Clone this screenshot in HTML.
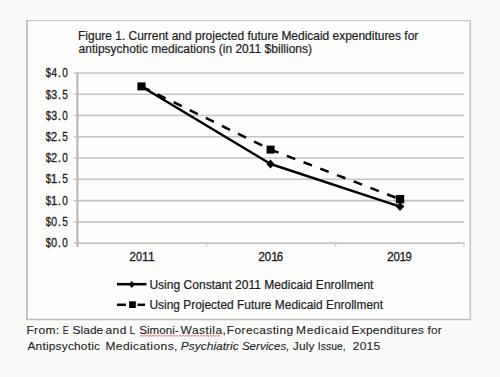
<!DOCTYPE html>
<html><head><meta charset="utf-8">
<style>
html,body{margin:0;padding:0;}
body{width:500px;height:377px;background:#fafaf8;overflow:hidden;}
svg{display:block;font-family:"Liberation Sans",sans-serif;}
text{stroke-linejoin:round;}
</style></head>
<body>
<svg width="500" height="377" viewBox="0 0 500 377">
  <rect x="0" y="0" width="500" height="377" fill="#fafaf8"/>
  <rect x="27" y="20.6" width="443.3" height="298.9" fill="#fdfdfc"/>
  <line x1="26.3" y1="20.6" x2="471" y2="20.6" stroke="#c8c6c2" stroke-width="1.4"/>
  <line x1="27" y1="20" x2="27" y2="320.2" stroke="#bab8b4" stroke-width="1.6"/>
  <line x1="470.3" y1="20" x2="470.3" y2="320.2" stroke="#c4c2be" stroke-width="1.5"/>
  <line x1="26.3" y1="319.5" x2="471" y2="319.5" stroke="#c0beba" stroke-width="1.6"/>
  <g stroke="#c6c4c0" stroke-width="1.6" fill="none">
    <line x1="77.5" y1="221.84" x2="464" y2="221.84"/>
    <line x1="77.5" y1="200.58" x2="464" y2="200.58"/>
    <line x1="77.5" y1="179.32" x2="464" y2="179.32"/>
    <line x1="77.5" y1="158.06" x2="464" y2="158.06"/>
    <line x1="77.5" y1="136.80" x2="464" y2="136.80"/>
    <line x1="77.5" y1="115.54" x2="464" y2="115.54"/>
    <line x1="77.5" y1="94.28" x2="464" y2="94.28"/>
    <line x1="77.5" y1="73.02" x2="464" y2="73.02"/>
    <line x1="77.5" y1="243.10" x2="464" y2="243.10"/>
  </g>
  <g stroke="#d0cecb" stroke-width="1.5" fill="none">
    <line x1="73.5" y1="243.10" x2="77" y2="243.10"/>
    <line x1="73.5" y1="221.84" x2="77" y2="221.84"/>
    <line x1="73.5" y1="200.58" x2="77" y2="200.58"/>
    <line x1="73.5" y1="179.32" x2="77" y2="179.32"/>
    <line x1="73.5" y1="158.06" x2="77" y2="158.06"/>
    <line x1="73.5" y1="136.80" x2="77" y2="136.80"/>
    <line x1="73.5" y1="115.54" x2="77" y2="115.54"/>
    <line x1="73.5" y1="94.28" x2="77" y2="94.28"/>
    <line x1="73.5" y1="73.02" x2="77" y2="73.02"/>
    <line x1="206.5" y1="243.10" x2="206.5" y2="246.8"/>
    <line x1="335.5" y1="243.10" x2="335.5" y2="246.8"/>
    <line x1="464" y1="243.10" x2="464" y2="246.8"/>
  </g>
  <line x1="77.4" y1="72.52" x2="77.4" y2="247" stroke="#b6b4b0" stroke-width="2"/>
  <polyline points="141.5,86.5 270.6,164 400,206.6" stroke="#000" stroke-width="2.5" fill="none" stroke-linejoin="round"/>
  <polyline points="141.5,86.5 270.6,149.6 400,199.2" stroke="#000" stroke-width="2.5" fill="none" stroke-dasharray="9 8.9"/>
  <g fill="#000">
    <path d="M270.5,159.5 L274.5,164 L270.5,168.5 L266.5,164 Z"/>
    <path d="M400,202.2 L404.3,206.6 L400,211 L395.7,206.6 Z"/>
    <rect x="137.4" y="82.4" width="8.2" height="8"/>
    <rect x="266.6" y="145.6" width="8" height="8"/>
    <rect x="395.8" y="195" width="8.4" height="8.4"/>
  </g>
  <line x1="117" y1="284.2" x2="146.5" y2="284.2" stroke="#000" stroke-width="2.5"/>
  <path d="M131.8,281 L134.8,284.5 L131.8,288 L128.8,284.5 Z" fill="#000"/>
  <line x1="117" y1="304.8" x2="126" y2="304.8" stroke="#000" stroke-width="2.5"/>
  <line x1="137.5" y1="304.8" x2="145" y2="304.8" stroke="#000" stroke-width="2.5"/>
  <rect x="129.1" y="301.3" width="6.7" height="6.7" fill="#000"/>
  <path d="M139.8,336.3 l1.5,-1 l1.5,1 l1.5,-1 l1.5,1 l1.5,-1 l1.5,1 l1.5,-1 l1.5,1 l1.5,-1 l1.5,1 l1.5,-1 l1.5,1 l1.5,-1 l1.5,1 l1.5,-1 l1.5,1 l1.5,-1 l1.5,1 l1.5,-1 l1.5,1 l1.5,-1 l1.5,1 l1.5,-1 l1.5,1 l1.5,-1 l1.5,1 l1.5,-1 l1.5,1 l1.5,-1 l1.5,1 l1.5,-1 l1.5,1 l1.5,-1 l1.5,1 l1.5,-1 l1.5,1 l1.5,-1 l1.5,1 l1.5,-1 l1.5,1 l1.5,-1 l1.5,1 l1.5,-1 l1.5,1 l1.5,-1 l1.5,1 l1.5,-1 l1.5,1 l1.5,-1 l1.5,1 l1.5,-1 l1.5,1 l1.5,-1 l1.5,1" stroke="#e0707c" stroke-width="1" fill="none"/>
  <text transform="translate(78.04 39.80) scale(0.9976 1)" font-size="12" fill="#1c1c1c" stroke="#1c1c1c" stroke-width="0.2">Figure 1. Current and projected future Medicaid expenditures for</text>
<text transform="translate(78.52 52.80) scale(1.0023 1)" font-size="12" fill="#1c1c1c" stroke="#1c1c1c" stroke-width="0.2">antipsychotic medications (in 2011 $billions)</text>
<text transform="translate(45.80 247.00) scale(0.7944 1)" font-size="12" fill="#1c1c1c" stroke="#1c1c1c" stroke-width="0.3">$</text>
<text transform="translate(51.23 247.00) scale(0.8763 1)" font-size="12" fill="#1c1c1c" stroke="#1c1c1c" stroke-width="0.3">0</text>
<text transform="translate(57.72 247.00)" font-size="12" fill="#1c1c1c" stroke="#1c1c1c" stroke-width="0.3">.</text>
<text transform="translate(62.35 247.00) scale(0.8247 1)" font-size="12" fill="#1c1c1c" stroke="#1c1c1c" stroke-width="0.3">0</text>
<text transform="translate(45.80 225.79) scale(0.7944 1)" font-size="12" fill="#1c1c1c" stroke="#1c1c1c" stroke-width="0.3">$</text>
<text transform="translate(51.23 225.79) scale(0.8763 1)" font-size="12" fill="#1c1c1c" stroke="#1c1c1c" stroke-width="0.3">0</text>
<text transform="translate(57.72 225.79)" font-size="12" fill="#1c1c1c" stroke="#1c1c1c" stroke-width="0.3">.</text>
<text transform="translate(62.30 225.79) scale(0.8421 1)" font-size="12" fill="#1c1c1c" stroke="#1c1c1c" stroke-width="0.3">5</text>
<text transform="translate(45.80 204.58) scale(0.7944 1)" font-size="12" fill="#1c1c1c" stroke="#1c1c1c" stroke-width="0.3">$</text>
<text transform="translate(50.64 204.58)" font-size="12" fill="#1c1c1c" stroke="#1c1c1c" stroke-width="0.3">1</text>
<text transform="translate(57.72 204.58)" font-size="12" fill="#1c1c1c" stroke="#1c1c1c" stroke-width="0.3">.</text>
<text transform="translate(62.35 204.58) scale(0.8247 1)" font-size="12" fill="#1c1c1c" stroke="#1c1c1c" stroke-width="0.3">0</text>
<text transform="translate(45.80 183.37) scale(0.7944 1)" font-size="12" fill="#1c1c1c" stroke="#1c1c1c" stroke-width="0.3">$</text>
<text transform="translate(50.64 183.37)" font-size="12" fill="#1c1c1c" stroke="#1c1c1c" stroke-width="0.3">1</text>
<text transform="translate(57.72 183.37)" font-size="12" fill="#1c1c1c" stroke="#1c1c1c" stroke-width="0.3">.</text>
<text transform="translate(62.30 183.37) scale(0.8421 1)" font-size="12" fill="#1c1c1c" stroke="#1c1c1c" stroke-width="0.3">5</text>
<text transform="translate(45.80 162.16) scale(0.7944 1)" font-size="12" fill="#1c1c1c" stroke="#1c1c1c" stroke-width="0.3">$</text>
<text transform="translate(51.05 162.16) scale(0.9239 1)" font-size="12" fill="#1c1c1c" stroke="#1c1c1c" stroke-width="0.3">2</text>
<text transform="translate(57.72 162.16)" font-size="12" fill="#1c1c1c" stroke="#1c1c1c" stroke-width="0.3">.</text>
<text transform="translate(62.35 162.16) scale(0.8247 1)" font-size="12" fill="#1c1c1c" stroke="#1c1c1c" stroke-width="0.3">0</text>
<text transform="translate(45.80 140.95) scale(0.7944 1)" font-size="12" fill="#1c1c1c" stroke="#1c1c1c" stroke-width="0.3">$</text>
<text transform="translate(51.05 140.95) scale(0.9239 1)" font-size="12" fill="#1c1c1c" stroke="#1c1c1c" stroke-width="0.3">2</text>
<text transform="translate(57.72 140.95)" font-size="12" fill="#1c1c1c" stroke="#1c1c1c" stroke-width="0.3">.</text>
<text transform="translate(62.30 140.95) scale(0.8421 1)" font-size="12" fill="#1c1c1c" stroke="#1c1c1c" stroke-width="0.3">5</text>
<text transform="translate(45.80 119.74) scale(0.7944 1)" font-size="12" fill="#1c1c1c" stroke="#1c1c1c" stroke-width="0.3">$</text>
<text transform="translate(51.23 119.74) scale(0.8854 1)" font-size="12" fill="#1c1c1c" stroke="#1c1c1c" stroke-width="0.3">3</text>
<text transform="translate(57.72 119.74)" font-size="12" fill="#1c1c1c" stroke="#1c1c1c" stroke-width="0.3">.</text>
<text transform="translate(62.35 119.74) scale(0.8247 1)" font-size="12" fill="#1c1c1c" stroke="#1c1c1c" stroke-width="0.3">0</text>
<text transform="translate(45.80 98.53) scale(0.7944 1)" font-size="12" fill="#1c1c1c" stroke="#1c1c1c" stroke-width="0.3">$</text>
<text transform="translate(51.23 98.53) scale(0.8854 1)" font-size="12" fill="#1c1c1c" stroke="#1c1c1c" stroke-width="0.3">3</text>
<text transform="translate(57.72 98.53)" font-size="12" fill="#1c1c1c" stroke="#1c1c1c" stroke-width="0.3">.</text>
<text transform="translate(62.30 98.53) scale(0.8421 1)" font-size="12" fill="#1c1c1c" stroke="#1c1c1c" stroke-width="0.3">5</text>
<text transform="translate(45.80 77.32) scale(0.7944 1)" font-size="12" fill="#1c1c1c" stroke="#1c1c1c" stroke-width="0.3">$</text>
<text transform="translate(51.40 77.32) scale(0.8333 1)" font-size="12" fill="#1c1c1c" stroke="#1c1c1c" stroke-width="0.3">4</text>
<text transform="translate(57.72 77.32)" font-size="12" fill="#1c1c1c" stroke="#1c1c1c" stroke-width="0.3">.</text>
<text transform="translate(62.35 77.32) scale(0.8247 1)" font-size="12" fill="#1c1c1c" stroke="#1c1c1c" stroke-width="0.3">0</text>
<text transform="translate(129.29 261.00) scale(1.0145 1)" font-size="12" fill="#1c1c1c" stroke="#1c1c1c" stroke-width="0.3">2</text>
<text transform="translate(136.12 261.00) scale(0.9107 1)" font-size="12" fill="#1c1c1c" stroke="#1c1c1c" stroke-width="0.3">0</text>
<text transform="translate(141.94 261.00)" font-size="12" fill="#1c1c1c" stroke="#1c1c1c" stroke-width="0.3">1</text>
<text transform="translate(147.89 261.00)" font-size="12" fill="#1c1c1c" stroke="#1c1c1c" stroke-width="0.3">1</text>
<text transform="translate(258.29 261.00) scale(1.0145 1)" font-size="12" fill="#1c1c1c" stroke="#1c1c1c" stroke-width="0.3">2</text>
<text transform="translate(264.80 261.00) scale(0.9622 1)" font-size="12" fill="#1c1c1c" stroke="#1c1c1c" stroke-width="0.3">0</text>
<text transform="translate(271.29 261.00)" font-size="12" fill="#1c1c1c" stroke="#1c1c1c" stroke-width="0.3">1</text>
<text transform="translate(276.83 261.00) scale(0.9498 1)" font-size="12" fill="#1c1c1c" stroke="#1c1c1c" stroke-width="0.3">6</text>
<text transform="translate(386.89 261.00) scale(1.0145 1)" font-size="12" fill="#1c1c1c" stroke="#1c1c1c" stroke-width="0.3">2</text>
<text transform="translate(393.40 261.00) scale(0.9622 1)" font-size="12" fill="#1c1c1c" stroke="#1c1c1c" stroke-width="0.3">0</text>
<text transform="translate(399.59 261.00)" font-size="12" fill="#1c1c1c" stroke="#1c1c1c" stroke-width="0.3">1</text>
<text transform="translate(405.60 261.00) scale(0.9319 1)" font-size="12" fill="#1c1c1c" stroke="#1c1c1c" stroke-width="0.3">9</text>
<text transform="translate(149.40 289.20) scale(1.0045 1)" font-size="12" fill="#1c1c1c" stroke="#1c1c1c" stroke-width="0.2">Using Constant 2011 Medicaid Enrollment</text>
<text transform="translate(149.40 309.00) scale(0.9951 1)" font-size="12" fill="#1c1c1c" stroke="#1c1c1c" stroke-width="0.2">Using Projected Future Medicaid Enrollment</text>
<text transform="translate(26.44 334.00) scale(1.0400 1)" font-size="11.5" fill="#222" stroke="#222" stroke-width="0.1" letter-spacing="0.332">From:</text>
<text transform="translate(62.70 334.00) scale(0.7659 1)" font-size="11.5" fill="#222" stroke="#222" stroke-width="0.1">E</text>
<text transform="translate(72.46 334.00) scale(1.0400 1)" font-size="11.5" fill="#222" stroke="#222" stroke-width="0.1" letter-spacing="0.058">Slade</text>
<text transform="translate(105.42 334.00) scale(1.0400 1)" font-size="11.5" fill="#222" stroke="#222" stroke-width="0.1" letter-spacing="0.507">and</text>
<text transform="translate(129.39 334.00) scale(0.8793 1)" font-size="11.5" fill="#222" stroke="#222" stroke-width="0.1">L</text>
<text transform="translate(139.28 334.00) scale(1.0114 1)" font-size="11.5" fill="#222" stroke="#222" stroke-width="0.1">Simoni-</text>
<text transform="translate(180.60 334.00) scale(1.0400 1)" font-size="11.5" fill="#222" stroke="#222" stroke-width="0.1" letter-spacing="0.434">Wastila,</text>
<text transform="translate(226.84 334.00) scale(1.0400 1)" font-size="11.5" fill="#222" stroke="#222" stroke-width="0.1" letter-spacing="0.366">Forecasting</text>
<text transform="translate(296.04 334.00) scale(1.0400 1)" font-size="11.5" fill="#222" stroke="#222" stroke-width="0.1" letter-spacing="0.663">Medicaid</text>
<text transform="translate(351.54 334.00) scale(1.0400 1)" font-size="11.5" fill="#222" stroke="#222" stroke-width="0.1" letter-spacing="0.224">Expenditures</text>
<text transform="translate(427.38 334.00) scale(1.0400 1)" font-size="11.5" fill="#222" stroke="#222" stroke-width="0.1" letter-spacing="0.201">for</text>
<text transform="translate(27.40 349.50) scale(1.0400 1)" font-size="11.5" fill="#222" stroke="#222" stroke-width="0.1" letter-spacing="0.179">Antipsychotic</text>
<text transform="translate(105.44 349.50) scale(1.0400 1)" font-size="11.5" fill="#222" stroke="#222" stroke-width="0.1" letter-spacing="0.425">Medications,</text>
<text transform="translate(180.84 349.50) scale(1.0400 1)" font-size="11.5" fill="#222" stroke="#222" stroke-width="0.1" font-style="italic" letter-spacing="0.006">Psychiatric</text>
<text transform="translate(241.91 349.50) scale(1.0064 1)" font-size="11.5" fill="#222" stroke="#222" stroke-width="0.1" font-style="italic">Services,</text>
<text transform="translate(292.82 349.50) scale(1.0400 1)" font-size="11.5" fill="#222" stroke="#222" stroke-width="0.1" letter-spacing="0.100">July</text>
<text transform="translate(317.86 349.50) scale(0.9079 1)" font-size="11.5" fill="#222" stroke="#222" stroke-width="0.1">Issue,</text>
<text transform="translate(352.80 349.50) scale(1.0400 1)" font-size="11.5" fill="#222" stroke="#222" stroke-width="0.1" letter-spacing="0.219">2015</text>
</svg>
</body></html>
